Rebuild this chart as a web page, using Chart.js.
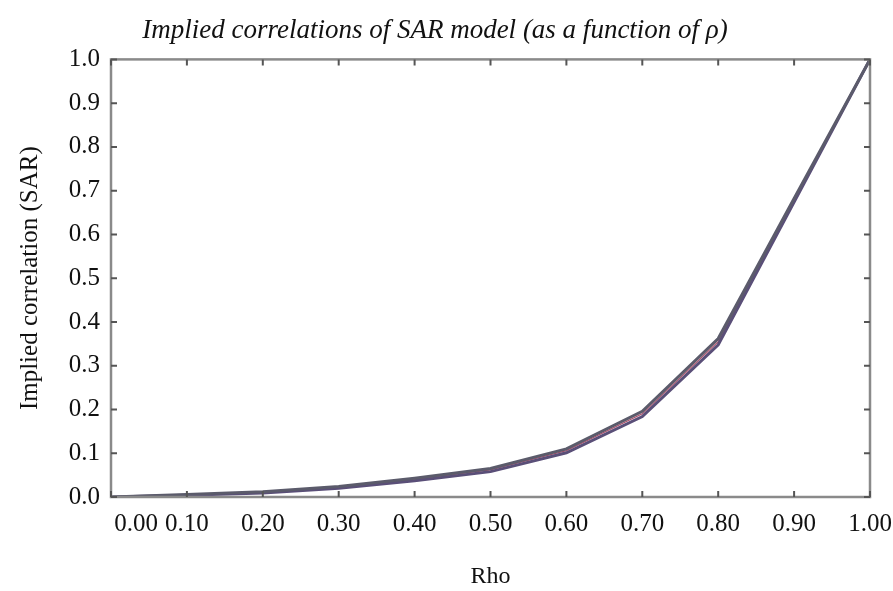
<!DOCTYPE html>
<html>
<head>
<meta charset="utf-8">
<script src="https://cdn.jsdelivr.net/npm/chart.js@4.4.0/dist/chart.umd.min.js"></script>
<style>
  html, body { margin: 0; padding: 0; background: #fff; }
  #wrap { width: 893px; height: 591px; }
</style>
</head>
<body>
<div id="wrap"><canvas id="chart-line"></canvas></div>
<script>
// rho values on the x axis
var rho = [0.0, 0.1, 0.2, 0.3, 0.4, 0.5, 0.6, 0.7, 0.8, 0.9, 1.0]
// implied correlation (three nearly overlapping curves)
var upper = [0.0, 0.006, 0.012, 0.024, 0.043, 0.065, 0.110, 0.196, 0.362, 0.682, 1.0]
var middle = [0.0, 0.005, 0.011, 0.022, 0.040, 0.062, 0.106, 0.190, 0.355, 0.678, 1.0]
var lower = [0.0, 0.004, 0.009, 0.020, 0.037, 0.058, 0.101, 0.184, 0.348, 0.674, 1.0]

var serif = "'Liberation Serif', 'Times New Roman', serif"

function pts(ys) {
    return rho.map((x, i) => ({ x: x, y: ys[i] }))
}

// box frame with inward ticks on all four sides
var frame = {
    id: 'frame',
    afterDatasetsDraw: function (chart) {
        let c = chart.ctx, a = chart.chartArea
        let xs = chart.scales.x, ys = chart.scales.y
        c.save()
        c.strokeStyle = '#8a8a8a'
        c.lineWidth = 2.5
        c.strokeRect(a.left, a.top, a.right - a.left, a.bottom - a.top)
        c.lineWidth = 2
        c.strokeStyle = '#555'
        c.beginPath()
        xs.ticks.forEach((t) => {
            let px = xs.getPixelForValue(t.value)
            c.moveTo(px, a.bottom); c.lineTo(px, a.bottom - 6)
            c.moveTo(px, a.top); c.lineTo(px, a.top + 6)
        })
        ys.ticks.forEach((t) => {
            let py = ys.getPixelForValue(t.value)
            c.moveTo(a.left, py); c.lineTo(a.left + 6, py)
            c.moveTo(a.right, py); c.lineTo(a.right - 6, py)
        })
        c.stroke()
        c.restore()
    }
}

var ctx = document.getElementById('chart-line')
var myLineChart = new Chart(ctx, {
    type: 'line',
    data: {
        datasets: [{
            data: pts(upper),
            borderColor: '#5b5b6b',
            borderWidth: 3
        }, {
            data: pts(lower),
            borderColor: '#5a4f78',
            borderWidth: 3
        }, {
            data: pts(middle),
            borderColor: '#b0506a',
            borderWidth: 1.2
        }]
    },
    options: {
        responsive: true,
        maintainAspectRatio: false,
        animation: false,
        layout: { padding: { left: 0, right: 23, top: 0, bottom: 0 } },
        elements: { point: { radius: 0 }, line: { tension: 0 } },
        plugins: {
            legend: { display: false },
            tooltip: { enabled: false },
            title: {
                display: true,
                text: 'Implied correlations of SAR model (as a function of ρ)',
                color: '#111',
                font: { family: serif, size: 27, style: 'italic', weight: 'normal' },
                padding: { top: 15, bottom: 12 }
            }
        },
        scales: {
            x: {
                type: 'linear',
                min: 0,
                max: 1,
                grid: { display: false, drawTicks: false },
                border: { display: false },
                ticks: {
                    stepSize: 0.1,
                    autoSkip: false,
                    padding: 12,
                    color: '#111',
                    maxRotation: 0,
                    font: { family: serif, size: 25 },
                    callback: function (v, i) {
                        let s = Number(v).toFixed(2)
                        return i === 0 ? '        ' + s : s
                    }
                },
                title: {
                    display: true,
                    text: 'Rho',
                    color: '#111',
                    font: { family: serif, size: 24 },
                    padding: { top: 0, bottom: 0 }
                },
                afterFit: function (scale) {
                    scale.height = 94
                    scale.paddingLeft = 0
                    scale.paddingRight = 0
                }
            },
            y: {
                min: 0,
                max: 1,
                grid: { display: false, drawTicks: false },
                border: { display: false },
                ticks: {
                    stepSize: 0.1,
                    autoSkip: false,
                    padding: 11,
                    color: '#111',
                    font: { family: serif, size: 25 },
                    callback: function (v) { return Number(v).toFixed(1) }
                },
                title: {
                    display: true,
                    text: 'Implied correlation (SAR)',
                    color: '#111',
                    font: { family: serif, size: 25 },
                    padding: { top: 15, bottom: 0 }
                },
                afterFit: function (scale) {
                    scale.width = 111
                    scale.paddingTop = 0
                    scale.paddingBottom = 0
                }
            }
        }
    },
    plugins: [frame]
})
</script>
</body>
</html>
